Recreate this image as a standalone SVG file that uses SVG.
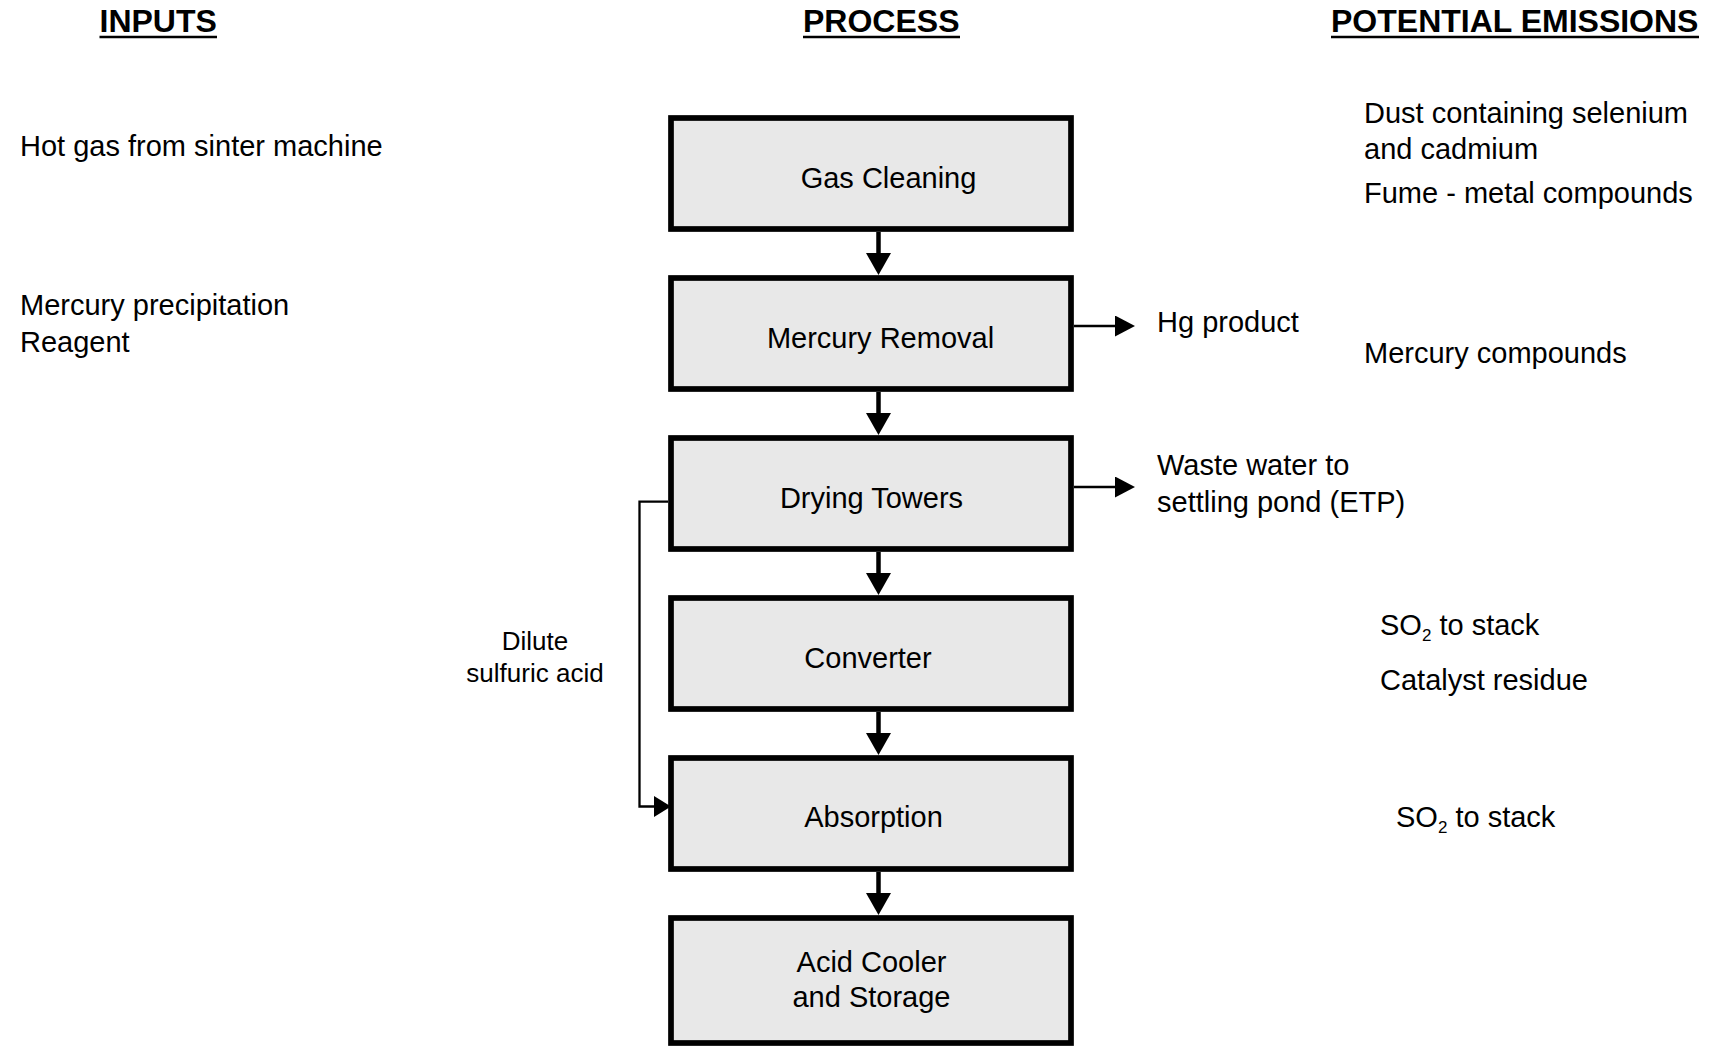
<svg xmlns="http://www.w3.org/2000/svg" width="1715" height="1046" viewBox="0 0 1715 1046">
<style>
.hdr{font-family:"Liberation Sans",Arial,sans-serif;font-size:32px;font-weight:bold;fill:#000}
.ul{stroke:#000;stroke-width:2.7}
.t{font-family:"Liberation Sans",Arial,sans-serif;font-size:29px;fill:#000}
.box{fill:#e8e8e8;stroke:#000;stroke-width:5.7}
.lbl{font-family:"Liberation Sans",Arial,sans-serif;font-size:29px;fill:#000;text-anchor:middle}
.sm{font-family:"Liberation Sans",Arial,sans-serif;font-size:26px;fill:#000;text-anchor:middle}
.thick{stroke:#000;stroke-width:4.5;fill:none}
.thin{stroke:#000;stroke-width:2.3;fill:none}
</style>
<defs>
<marker id="bigArrow" markerUnits="userSpaceOnUse" markerWidth="22" markerHeight="25" refX="12" refY="12.5" orient="auto" viewBox="0 0 22 25">
<path d="M0,0 L22,12.5 L0,25 z" fill="#000"/>
</marker>
<marker id="smallArrow" markerUnits="userSpaceOnUse" markerWidth="20" markerHeight="21" refX="10" refY="10.5" orient="auto" viewBox="0 0 20 21">
<path d="M0,0 L20,10.5 L0,21 z" fill="#000"/>
</marker>
<marker id="sideArrow" markerUnits="userSpaceOnUse" markerWidth="17" markerHeight="21" refX="7" refY="10.5" orient="auto" viewBox="0 0 17 21">
<path d="M0,0 L17,10.5 L0,21 z" fill="#000"/>
</marker>
</defs>

<g id="headers">
<text class="hdr" x="99.5" y="32.3">INPUTS</text>
<line class="ul" x1="99.5" y1="37" x2="217" y2="37"/>
<text class="hdr" x="803" y="32.3">PROCESS</text>
<line class="ul" x1="803" y1="37" x2="960" y2="37"/>
<text class="hdr" x="1331" y="32.3">POTENTIAL EMISSIONS</text>
<line class="ul" x1="1331" y1="37" x2="1699" y2="37"/>
</g>

<g id="inputs">
<text class="t" x="20" y="155.7">Hot gas from sinter machine</text>
<text class="t" x="20" y="315">Mercury precipitation</text>
<text class="t" x="20" y="351.7">Reagent</text>
</g>

<g id="emissions">
<text class="t" x="1364" y="123.3">Dust containing selenium</text>
<text class="t" x="1364" y="159.3">and cadmium</text>
<text class="t" x="1364" y="203.3">Fume - metal compounds</text>
<text class="t" x="1364" y="362.7">Mercury compounds</text>
<text class="t" x="1380" y="635">SO<tspan font-size="17" dy="6">2</tspan><tspan dy="-6"> to stack</tspan></text>
<text class="t" x="1380" y="690">Catalyst residue</text>
<text class="t" x="1396" y="826.7">SO<tspan font-size="17" dy="6">2</tspan><tspan dy="-6"> to stack</tspan></text>
</g>

<g id="outputs">
<text class="t" x="1157" y="331.7">Hg product</text>
<text class="t" x="1157" y="475">Waste water to</text>
<text class="t" x="1157" y="511.7">settling pond (ETP)</text>
</g>

<g id="node-gas-cleaning">
<rect class="box" x="671" y="118" width="400" height="111"/>
<text class="lbl" x="888.5" y="188">Gas Cleaning</text>
</g>
<g id="node-mercury-removal">
<rect class="box" x="671" y="278" width="400" height="111"/>
<text class="lbl" x="880.5" y="348">Mercury Removal</text>
</g>
<g id="node-drying-towers">
<rect class="box" x="671" y="438" width="400" height="111"/>
<text class="lbl" x="871.5" y="507.5">Drying Towers</text>
</g>
<g id="node-converter">
<rect class="box" x="671" y="598" width="400" height="111"/>
<text class="lbl" x="868" y="667.5">Converter</text>
</g>
<g id="node-absorption">
<rect class="box" x="671" y="758" width="400" height="111"/>
<text class="lbl" x="873.5" y="827">Absorption</text>
</g>
<g id="node-acid-cooler">
<rect class="box" x="671" y="918" width="400" height="125"/>
<text class="lbl" x="871.5" y="972">Acid Cooler</text>
<text class="lbl" x="871.5" y="1007">and Storage</text>
</g>

<g id="dilute-label">
<text class="sm" x="535" y="649.5">Dilute</text>
<text class="sm" x="535" y="681.5">sulfuric acid</text>
</g>

<g id="connectors">
<line class="thick" x1="878.5" y1="232" x2="878.5" y2="265" marker-end="url(#bigArrow)"/>
<line class="thick" x1="878.5" y1="392" x2="878.5" y2="425" marker-end="url(#bigArrow)"/>
<line class="thick" x1="878.5" y1="552" x2="878.5" y2="585" marker-end="url(#bigArrow)"/>
<line class="thick" x1="878.5" y1="712" x2="878.5" y2="745" marker-end="url(#bigArrow)"/>
<line class="thick" x1="878.5" y1="872" x2="878.5" y2="905" marker-end="url(#bigArrow)"/>
<line class="thin" x1="1074" y1="326" x2="1125" y2="326" marker-end="url(#smallArrow)"/>
<line class="thin" x1="1074" y1="487" x2="1125" y2="487" marker-end="url(#smallArrow)"/>
<path class="thin" d="M668,501.7 H639.5 V806.5 H661" marker-end="url(#sideArrow)"/>
</g>
</svg>
